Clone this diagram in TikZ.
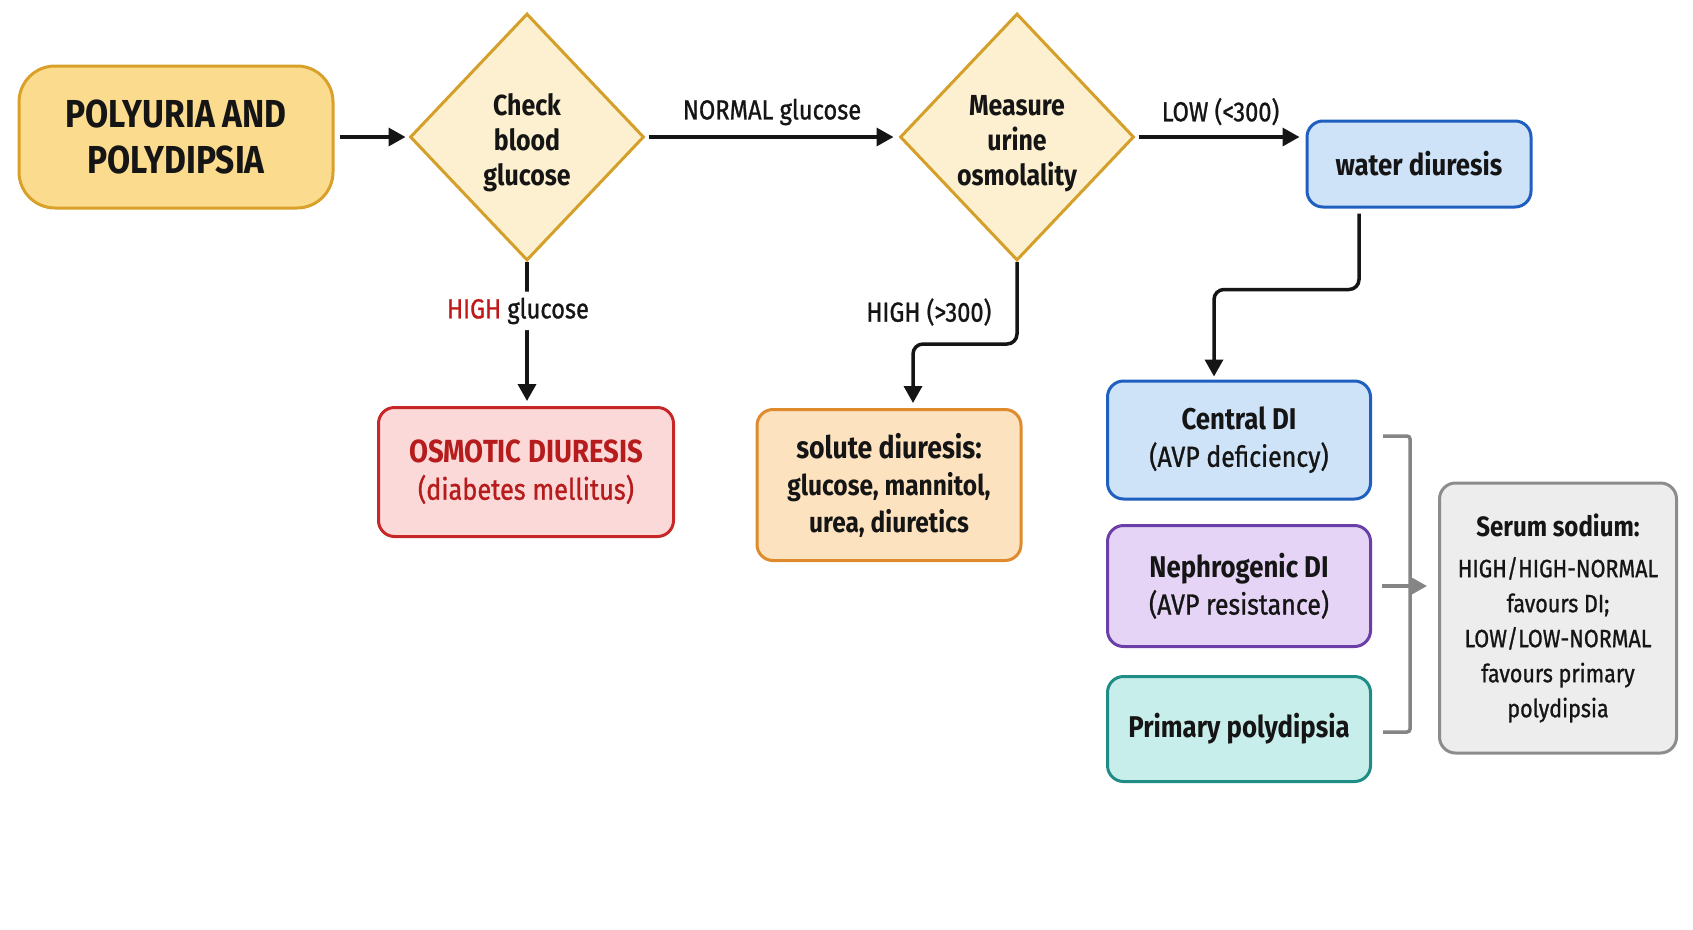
\documentclass[tikz,border=0pt]{standalone}
\usepackage{fontspec}
\setmainfont{Fira Sans}[FakeStretch=0.86]
\newfontfamily\mediumfont{Fira Sans}[FakeStretch=0.86, FakeBold=1]
\usepackage{xcolor}
\usepackage{tikz}
\usetikzlibrary{positioning, shapes.geometric, arrows.meta}

\definecolor{startFill}{HTML}{FBDB8D}
\definecolor{startDraw}{HTML}{D9A12A}
\definecolor{decisionFill}{HTML}{FDF0D0}
\definecolor{decisionDraw}{HTML}{D4A02A}
\definecolor{osmFill}{HTML}{FBD9D9}
\definecolor{osmDraw}{HTML}{C62828}
\definecolor{osmText}{HTML}{B71C1C}
\definecolor{soluteFill}{HTML}{FCE2BF}
\definecolor{soluteDraw}{HTML}{E08A2E}
\definecolor{blueFill}{HTML}{CFE3F8}
\definecolor{blueDraw}{HTML}{1F5FBF}
\definecolor{purpleFill}{HTML}{E5D4F5}
\definecolor{purpleDraw}{HTML}{6B3FA8}
\definecolor{tealFill}{HTML}{C7EEEA}
\definecolor{tealDraw}{HTML}{1F8C85}
\definecolor{grayFill}{HTML}{EDEDED}
\definecolor{grayDraw}{HTML}{8C8C8C}
\definecolor{bracketGray}{HTML}{858585}
\definecolor{highRed}{HTML}{C01818}
\definecolor{inkBlack}{HTML}{151515}

\begin{document}
\begin{tikzpicture}[x=1pt, y=-1pt]
% style: defaultEdge
\tikzstyle{defaultEdge}=[draw=inkBlack,line width=3.5pt,-{Triangle[length=17pt,width=18pt]},rounded corners=10pt]
% style: defaultLabel
\tikzstyle{defaultLabel}=[text=inkBlack,font=\mediumfont\fontsize{27.5}{30}\selectfont,inner sep=6pt]
% style: bracketEdge
\tikzstyle{bracketEdge}=[draw=bracketGray,line width=3.5pt,rounded corners=3pt]
% style: bracketArrow
\tikzstyle{bracketArrow}=[draw=bracketGray,line width=3.5pt,-{Triangle[length=17pt,width=18pt]},shorten >=11pt]
% style: Start_style
\tikzstyle{Start_style}=[rectangle,rounded corners=36pt,draw=startDraw,fill=startFill,line width=3pt,minimum width=314pt,minimum height=142pt,align=center,text=inkBlack,font=\fontsize{39}{46}\selectfont\bfseries]
% style: Decision_style
\tikzstyle{Decision_style}=[diamond,draw=decisionDraw,fill=decisionFill,line width=3pt,minimum width=234pt,minimum height=247pt,inner sep=0pt,align=center,text=inkBlack,font=\fontsize{29}{35}\selectfont\bfseries]
% style: Box_style
\tikzstyle{Box_style}=[rectangle,rounded corners=16pt,line width=3pt,align=center,text=inkBlack,font=\fontsize{30}{37}\selectfont\bfseries]
% style: Osmotic_style
\tikzstyle{Osmotic_style}=[Box_style,draw=osmDraw,fill=osmFill,text=osmText,minimum width=295pt,minimum height=129pt]
% style: Solute_style
\tikzstyle{Solute_style}=[Box_style,draw=soluteDraw,fill=soluteFill,minimum width=264pt,minimum height=151pt]
% style: Water_style
\tikzstyle{Water_style}=[Box_style,draw=blueDraw,fill=blueFill,minimum width=224pt,minimum height=86pt]
% style: Central_style
\tikzstyle{Central_style}=[Box_style,draw=blueDraw,fill=blueFill,minimum width=263pt,minimum height=118pt]
% style: Nephro_style
\tikzstyle{Nephro_style}=[Box_style,draw=purpleDraw,fill=purpleFill,minimum width=263pt,minimum height=121pt]
% style: Primary_style
\tikzstyle{Primary_style}=[Box_style,draw=tealDraw,fill=tealFill,minimum width=263pt,minimum height=105pt]
% style: Serum_style
\tikzstyle{Serum_style}=[Box_style,draw=grayDraw,fill=grayFill,minimum width=237pt,minimum height=270pt,font=\mediumfont\mdseries\fontsize{25}{35}\selectfont]

\fill[white] (0,0) rectangle (1693,929);
\useasboundingbox (0,0) rectangle (1693,929);

% node group: top_row
% node: polyuria
\node[Start_style] (polyuria) at (176, 137) {POLYURIA AND\\POLYDIPSIA};
% node: check_glucose
\node[Decision_style] (check_glucose) at (527, 137) {\mbox{}\\[-2pt]Check\\blood\\glucose};
% node: measure_osmolality
\node[Decision_style] (measure_osmolality) at (1017, 137) {\mbox{}\\[-2pt]Measure\\urine\\osmolality};
% node: water_diuresis
\node[Water_style] (water_diuresis) at (1419, 164) {water diuresis};
% end of node group: top_row

% node group: causes
% node: osmotic_diuresis
\node[Osmotic_style] (osmotic_diuresis) at (526, 472)
    {{\fontsize{32}{37}\selectfont OSMOTIC DIURESIS}\\
    {\mediumfont\mdseries\fontsize{29.5}{37}\selectfont (diabetes mellitus)}};
% node: solute_diuresis
\node[Solute_style] (solute_diuresis) at (889, 485)
    {{\fontsize{31}{37}\selectfont solute diuresis:}\\
    {\fontsize{28.5}{37}\selectfont glucose, mannitol,}\\
    {\fontsize{28.5}{37}\selectfont urea, diuretics}};
% node: central_di
\node[Central_style] (central_di) at (1239, 440)
    {Central DI\\
    {\mediumfont\mdseries\fontsize{29}{37}\selectfont (AVP deficiency)}};
% node: nephrogenic_di
\node[Nephro_style] (nephrogenic_di) at (1239, 586)
    {Nephrogenic DI\\
    {\mediumfont\mdseries\fontsize{29}{37}\selectfont (AVP resistance)}};
% node: primary_polydipsia
\node[Primary_style] (primary_polydipsia) at (1239, 729) {Primary polydipsia};
% node: serum_sodium
\node[Serum_style] (serum_sodium) at (1558, 618)
    {{\normalfont\bfseries\fontsize{28}{35}\selectfont Serum sodium:}\\[6pt]
    HIGH/HIGH-NORMAL\\
    favours DI;\\
    LOW/LOW-NORMAL\\
    favours primary\\
    polydipsia};
% end of node group: causes

% edge from polyuria to check_glucose
\draw[defaultEdge, shorten <=5pt, shorten >=3pt] (polyuria.east) -- (check_glucose.west);

% edge from check_glucose to measure_osmolality
\draw[defaultEdge, shorten <=3pt, shorten >=5pt] (check_glucose.east) -- node [defaultLabel, above=4pt] {NORMAL glucose} (measure_osmolality.west);

% edge from measure_osmolality to water_diuresis
\draw[defaultEdge, shorten <=3pt, shorten >=6pt] (measure_osmolality.east) -- node [defaultLabel, above=4pt] {LOW (<300)} (water_diuresis.west |- measure_osmolality.east);

% edge from check_glucose to osmotic_diuresis
\draw[defaultEdge, shorten >=5pt] (check_glucose.south) -- node [defaultLabel, fill=white, pos=0.34, xshift=-9pt] {\textcolor{highRed}{HIGH} glucose} (check_glucose.south |- osmotic_diuresis.north);

% edge from measure_osmolality to solute_diuresis
\draw[defaultEdge, shorten >=5pt] (measure_osmolality.south) -- ++(0,82) node [defaultLabel, pos=0.61, anchor=east, xshift=-18pt] {HIGH (>300)} -| ([xshift=24pt]solute_diuresis.north);

% edge from water_diuresis to central_di
\draw[defaultEdge, shorten <=5pt, shorten >=3pt] ([xshift=-60pt]water_diuresis.south) -- ++(0,81) -| ([xshift=-25pt]central_di.north);

% edge from di group to serum_sodium
\draw[bracketEdge] ([xshift=11pt, yshift=4pt]central_di.east) -| ([xshift=38pt]nephrogenic_di.east) |- ([xshift=11pt, yshift=-3pt]primary_polydipsia.east);
\draw[bracketArrow] ([xshift=10pt]nephrogenic_di.east) -- (serum_sodium.west |- nephrogenic_di.east);

\end{tikzpicture}
\end{document}
